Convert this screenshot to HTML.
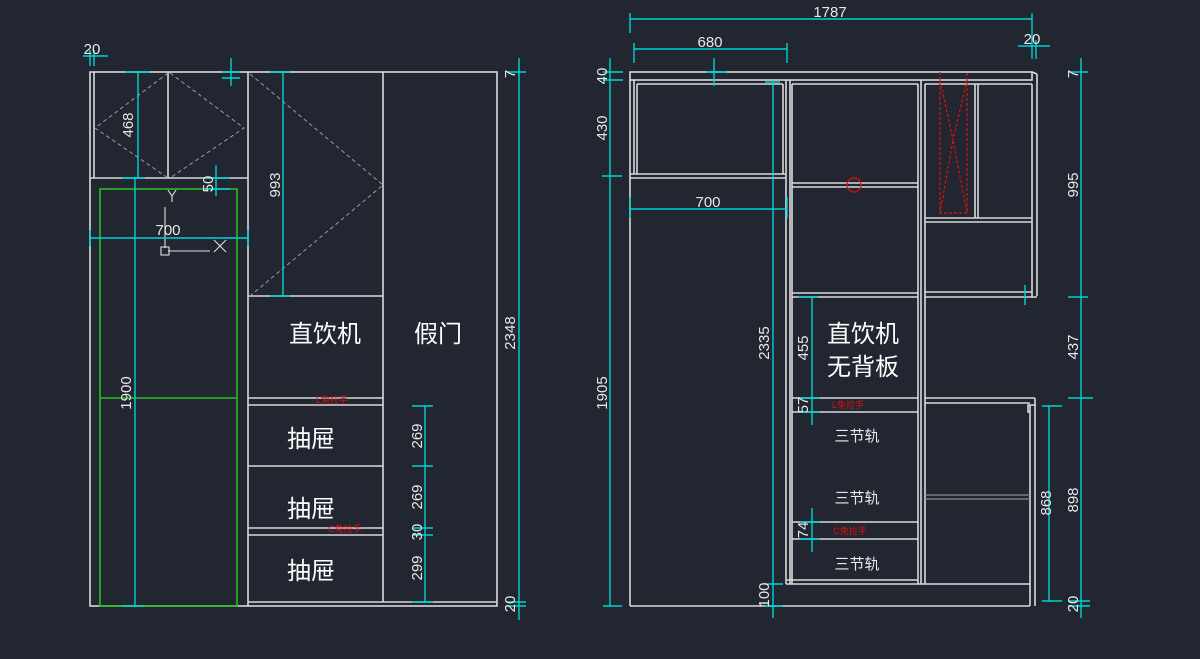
<!DOCTYPE html>
<html><head><meta charset="utf-8"><style>
html,body{margin:0;padding:0;background:#212630;}
svg{display:block}
.w{stroke:#d9d9d9;stroke-width:1.6;fill:none}
.g{stroke:#9a9a9a;stroke-width:1;fill:none;stroke-dasharray:4 3}
.c{stroke:#00d2d2;stroke-width:1.4;fill:none}
.t{fill:#e8e8e8;font-family:"Liberation Sans","Noto Sans CJK SC",sans-serif;font-size:15px;text-anchor:middle}
.k{fill:#ffffff;font-family:"Liberation Sans","Noto Sans CJK SC",sans-serif;font-size:24px;text-anchor:middle}
.r{fill:#e01010;font-family:"Liberation Sans","Noto Sans CJK SC",sans-serif;font-size:9px;text-anchor:middle}
</style></head><body>
<svg width="1200" height="659" viewBox="0 0 1200 659" xmlns="http://www.w3.org/2000/svg">
<rect width="1200" height="659" fill="#212630"/>
<!-- LEFT DRAWING -->
<g class="w">
<rect x="90" y="72" width="407" height="534"/>
<line x1="94" y1="72" x2="94" y2="178"/>
<line x1="168" y1="72" x2="168" y2="178"/>
<line x1="90" y1="178" x2="248" y2="178"/>
<line x1="248" y1="72" x2="248" y2="606"/>
<line x1="383" y1="72" x2="383" y2="602"/>
<line x1="248" y1="296" x2="383" y2="296"/>
<line x1="248" y1="398" x2="383" y2="398"/>
<line x1="248" y1="405" x2="383" y2="405"/>
<line x1="248" y1="466" x2="383" y2="466"/>
<line x1="248" y1="528" x2="383" y2="528"/>
<line x1="248" y1="535" x2="383" y2="535"/>
<line x1="248" y1="602" x2="497" y2="602"/>
</g>
<polyline class="g" points="168,73 95,128 168,178"/>
<polyline class="g" points="170,73 244,128 170,178"/>
<polyline class="g" points="250,74 383,185 250,296"/>
<rect x="100" y="189" width="137" height="417" fill="none" stroke="#22c022" stroke-width="1.6"/>
<line x1="100" y1="398" x2="237" y2="398" stroke="#22c022" stroke-width="1.6"/>
<!-- UCS -->
<g stroke="#e0e0e0" stroke-width="1.1" fill="none">
<line x1="165" y1="207" x2="165" y2="248"/><line x1="168" y1="251" x2="210" y2="251"/>
<rect x="161" y="247" width="8" height="8"/>
<line x1="214" y1="240" x2="226" y2="252"/><line x1="226" y1="240" x2="214" y2="252"/>
<line x1="168" y1="190" x2="172" y2="196"/><line x1="176" y1="190" x2="172" y2="196"/><line x1="172" y1="196" x2="172" y2="202"/>
</g>
<text class="k" x="325" y="342">直饮机</text>
<text class="k" x="438" y="342">假门</text>
<text class="k" x="311" y="447">抽屉</text>
<text class="k" x="311" y="517">抽屉</text>
<text class="k" x="311" y="579">抽屉</text>
<text class="r" x="332" y="403">L免拉手</text>
<text class="r" x="345" y="532">C免拉手</text>
<!-- left dims -->
<g class="c">
<line x1="83" y1="56" x2="108" y2="56"/><line x1="94" y1="50" x2="94" y2="66"/><line x1="90" y1="50" x2="90" y2="66"/>
<line x1="138" y1="72" x2="138" y2="178"/><line x1="125" y1="72" x2="150" y2="72"/><line x1="122" y1="178" x2="145" y2="178"/>
<line x1="216" y1="165" x2="216" y2="196"/><line x1="205" y1="178" x2="230" y2="178"/><line x1="205" y1="189" x2="230" y2="189"/>
<line x1="90" y1="238" x2="248" y2="238"/><line x1="90" y1="230" x2="90" y2="246"/><line x1="248" y1="230" x2="248" y2="246"/>
<line x1="283" y1="72" x2="283" y2="296"/><line x1="270" y1="72" x2="290" y2="72"/><line x1="270" y1="296" x2="290" y2="296"/>
<line x1="135" y1="178" x2="135" y2="606"/><line x1="122" y1="606" x2="143" y2="606"/>
<line x1="231" y1="58" x2="231" y2="86"/><line x1="222" y1="72" x2="240" y2="72"/><line x1="222" y1="78" x2="240" y2="78"/>
<line x1="519" y1="58" x2="519" y2="620"/><line x1="507" y1="72" x2="526" y2="72"/><line x1="507" y1="602" x2="526" y2="602"/><line x1="507" y1="606" x2="526" y2="606"/>
<line x1="425" y1="406" x2="425" y2="602"/>
<line x1="412" y1="406" x2="433" y2="406"/><line x1="412" y1="466" x2="433" y2="466"/><line x1="412" y1="528" x2="433" y2="528"/><line x1="412" y1="535" x2="433" y2="535"/><line x1="412" y1="602" x2="433" y2="602"/>
</g>
<text class="t" x="92" y="54">20</text>
<text class="t" x="168" y="235">700</text>
<text class="t" transform="translate(133,125) rotate(-90)">468</text>
<text class="t" transform="translate(213,184) rotate(-90)">50</text>
<text class="t" transform="translate(280,185) rotate(-90)">993</text>
<text class="t" transform="translate(131,393) rotate(-90)">1900</text>
<text class="t" transform="translate(515,333) rotate(-90)">2348</text>
<text class="t" transform="translate(515,604) rotate(-90)">20</text>
<text class="t" transform="translate(515,74) rotate(-90)">7</text>
<text class="t" transform="translate(422,436) rotate(-90)">269</text>
<text class="t" transform="translate(422,497) rotate(-90)">269</text>
<text class="t" transform="translate(422,532) rotate(-90)">30</text>
<text class="t" transform="translate(422,568) rotate(-90)">299</text>
<!-- RIGHT DRAWING -->
<g class="w">
<rect x="630" y="72" width="402" height="8"/>
<line x1="1032" y1="72" x2="1037" y2="74"/><line x1="1037" y1="74" x2="1037" y2="296"/>
<line x1="630" y1="80" x2="630" y2="606"/>
<line x1="630" y1="606" x2="1030" y2="606"/>
<line x1="634" y1="80" x2="634" y2="174"/><line x1="637" y1="84" x2="637" y2="174"/>
<line x1="637" y1="84" x2="783" y2="84"/><line x1="783" y1="84" x2="783" y2="174"/>
<line x1="630" y1="174" x2="786" y2="174"/><line x1="630" y1="178" x2="786" y2="178"/>
<line x1="786" y1="80" x2="786" y2="584"/><line x1="790" y1="80" x2="790" y2="584"/>
<line x1="792" y1="84" x2="792" y2="584"/><line x1="918" y1="84" x2="918" y2="584"/>
<line x1="792" y1="84" x2="918" y2="84"/>
<line x1="792" y1="183" x2="918" y2="183"/><line x1="792" y1="187" x2="918" y2="187"/>
<line x1="792" y1="293" x2="918" y2="293"/><line x1="792" y1="297" x2="918" y2="297"/>
<line x1="792" y1="398" x2="918" y2="398"/><line x1="792" y1="412" x2="918" y2="412"/>
<line x1="792" y1="522" x2="918" y2="522"/><line x1="792" y1="539" x2="918" y2="539"/>
<line x1="786" y1="580" x2="918" y2="580"/><line x1="786" y1="584" x2="1030" y2="584"/>
<line x1="921" y1="80" x2="921" y2="584"/><line x1="925" y1="84" x2="925" y2="584"/>
<line x1="925" y1="84" x2="1032" y2="84"/>
<line x1="975" y1="84" x2="975" y2="218"/><line x1="978" y1="84" x2="978" y2="218"/>
<line x1="925" y1="218" x2="1032" y2="218"/><line x1="925" y1="222" x2="1032" y2="222"/>
<line x1="925" y1="292" x2="1032" y2="292"/><line x1="925" y1="297" x2="1037" y2="297"/>
<line x1="1032" y1="84" x2="1032" y2="297"/>
<line x1="925" y1="398" x2="1035" y2="398"/><line x1="925" y1="403" x2="1030" y2="403"/>
<polyline points="1035,398 1035,405 1028,405 1028,412 1030,412"/>
<line x1="1030" y1="405" x2="1030" y2="606"/><line x1="1035" y1="405" x2="1035" y2="606"/>
</g>
<line x1="925" y1="495" x2="1030" y2="495" stroke="#8a8a8a" stroke-width="1.2"/>
<line x1="925" y1="499" x2="1030" y2="499" stroke="#8a8a8a" stroke-width="1.2"/>
<g stroke="#e01010" stroke-width="1.2" fill="none" stroke-dasharray="3 2">
<polyline points="940,72 940,213 967,213 967,72"/>
<polyline points="940,80 953,140 967,80"/>
<polyline points="940,213 953,140 967,213"/>
</g>
<circle cx="854" cy="185" r="7" fill="none" stroke="#e01010" stroke-width="1.2"/>
<text class="k" x="863" y="342">直饮机</text>
<text class="k" x="863" y="375">无背板</text>
<text class="t" x="857" y="441">三节轨</text>
<text class="t" x="857" y="503">三节轨</text>
<text class="t" x="857" y="569">三节轨</text>
<text class="r" x="848" y="408">L免拉手</text>
<text class="r" x="850" y="534">C免拉手</text>
<!-- right dims -->
<g class="c">
<line x1="630" y1="19" x2="1032" y2="19"/><line x1="630" y1="13" x2="630" y2="33"/><line x1="1032" y1="13" x2="1032" y2="59"/>
<line x1="634" y1="49" x2="787" y2="49"/><line x1="634" y1="43" x2="634" y2="63"/><line x1="787" y1="43" x2="787" y2="63"/>
<line x1="1018" y1="46" x2="1050" y2="46"/><line x1="1036" y1="40" x2="1036" y2="59"/>
<line x1="630" y1="209" x2="787" y2="209"/><line x1="630" y1="197" x2="630" y2="218"/><line x1="787" y1="197" x2="787" y2="218"/>
<line x1="714" y1="58" x2="714" y2="86"/><line x1="706" y1="72" x2="727" y2="72"/>
<line x1="610" y1="58" x2="610" y2="606"/><line x1="603" y1="72" x2="623" y2="72"/><line x1="603" y1="80" x2="623" y2="80"/><line x1="602" y1="176" x2="622" y2="176"/><line x1="603" y1="606" x2="622" y2="606"/>
<line x1="773" y1="82" x2="773" y2="618"/><line x1="765" y1="82" x2="780" y2="82"/><line x1="765" y1="584" x2="783" y2="584"/><line x1="765" y1="606" x2="783" y2="606"/>
<line x1="812" y1="297" x2="812" y2="425"/><line x1="798" y1="297" x2="818" y2="297"/><line x1="800" y1="398" x2="820" y2="398"/><line x1="800" y1="412" x2="820" y2="412"/>
<line x1="812" y1="508" x2="812" y2="552"/><line x1="800" y1="522" x2="820" y2="522"/><line x1="800" y1="539" x2="820" y2="539"/>
<line x1="1081" y1="58" x2="1081" y2="618"/><line x1="1068" y1="72" x2="1088" y2="72"/><line x1="1068" y1="297" x2="1088" y2="297"/><line x1="1068" y1="398" x2="1093" y2="398"/><line x1="1068" y1="601" x2="1090" y2="601"/><line x1="1068" y1="606" x2="1090" y2="606"/>
<line x1="1049" y1="406" x2="1049" y2="601"/><line x1="1042" y1="406" x2="1062" y2="406"/><line x1="1042" y1="601" x2="1062" y2="601"/>
<line x1="1025" y1="285" x2="1025" y2="305"/>
</g>
<text class="t" x="830" y="17">1787</text>
<text class="t" x="710" y="47">680</text>
<text class="t" x="1032" y="44">20</text>
<text class="t" x="708" y="207">700</text>
<text class="t" transform="translate(607,76) rotate(-90)">40</text>
<text class="t" transform="translate(607,128) rotate(-90)">430</text>
<text class="t" transform="translate(607,393) rotate(-90)">1905</text>
<text class="t" transform="translate(769,343) rotate(-90)">2335</text>
<text class="t" transform="translate(769,595) rotate(-90)">100</text>
<text class="t" transform="translate(808,348) rotate(-90)">455</text>
<text class="t" transform="translate(808,405) rotate(-90)">57</text>
<text class="t" transform="translate(808,530) rotate(-90)">74</text>
<text class="t" transform="translate(1078,74) rotate(-90)">7</text>
<text class="t" transform="translate(1078,185) rotate(-90)">995</text>
<text class="t" transform="translate(1078,347) rotate(-90)">437</text>
<text class="t" transform="translate(1078,500) rotate(-90)">898</text>
<text class="t" transform="translate(1078,604) rotate(-90)">20</text>
<text class="t" transform="translate(1051,503) rotate(-90)">868</text>
</svg>
</body></html>
